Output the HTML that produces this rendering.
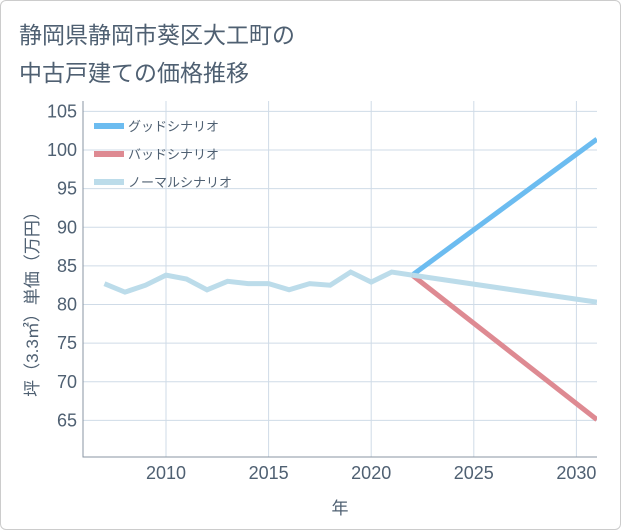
<!DOCTYPE html>
<html><head><meta charset="utf-8"><style>
body{margin:0;background:#fff}
#wrap{position:relative;width:619px;height:528px;border:1px solid #ccc;border-radius:6px;overflow:hidden;background:#fff}
.t{position:absolute;left:18px;font-family:"Liberation Sans","Noto Sans CJK JP",sans-serif;font-size:23px;color:#4f6072}
svg text{font-family:"Liberation Sans","Noto Sans CJK JP",sans-serif}
</style></head><body>
<div id="wrap">
<div class="t" style="top:15px">静岡県静岡市葵区大工町の</div>
<div class="t" style="top:53px">中古戸建ての価格推移</div>
<svg id="c" width="621" height="530" style="position:absolute;left:-1px;top:-1px"></svg>
</div>
<script>
const years=[2007,2008,2009,2010,2011,2012,2013,2014,2015,2016,2017,2018,2019,2020,2021,2022];
const normalVals=[82.7,81.6,82.5,83.8,83.3,81.9,83.0,82.7,82.7,81.9,82.7,82.5,84.2,82.9,84.2,83.8];
const scenYears=[2022,2031];
const goodVals=[83.8,101.4];
const badVals=[83.8,65.1];
const normFut=[83.8,80.3];
const xTicks=[2010,2015,2020,2025,2030];
const yTicks=[65,70,75,80,85,90,95,100,105];
const L=83,R=597,T=101,B=457;
const X=v=>166+(v-2010)*20.52;
const Y=v=>150-(v-100)*7.725;
const s=document.getElementById('c'),NS='http://www.w3.org/2000/svg';
function mk(t,a,p){const e=document.createElementNS(NS,t);for(const k in a)e.setAttribute(k,a[k]);(p||s).appendChild(e);return e;}
xTicks.forEach(y=>{const g=mk('line',{x1:X(y),x2:X(y),y1:T,y2:B,stroke:'#cfdbe7','stroke-width':1});});
yTicks.forEach(v=>{const g=mk('line',{x1:L,x2:R,y1:Y(v),y2:Y(v),stroke:'#cfdbe7','stroke-width':1});});
const ax=mk('path',{d:`M${L} ${T}V${B}H${R}`,fill:'none',stroke:'#8a96a3','stroke-width':1});

yTicks.forEach(v=>{const t=mk('text',{x:L-6,y:Y(v)+6,'text-anchor':'end','font-size':18,fill:'#4f6072'});t.textContent=v;});
xTicks.forEach(v=>{const t=mk('text',{x:X(v),y:479,'text-anchor':'middle','font-size':18,fill:'#4f6072'});t.textContent=v;});
const xt=mk('text',{x:340,y:514,'text-anchor':'middle','font-size':17,fill:'#4f6072'});xt.textContent='年';

const yt=mk('text',{x:0,y:0,'text-anchor':'middle','font-size':17,fill:'#4f6072',transform:'translate(38,300) rotate(-90)'});yt.textContent='坪（3.3㎡）単価（万円）';

const defs=mk('defs',{});const cp=mk('clipPath',{id:'cp'},defs);mk('rect',{x:L,y:T,width:R-L,height:B-T},cp);
function line(xs,vs,col,name){const p=mk('path',{d:xs.map((x,i)=>(i?'L':'M')+X(x)+' '+Y(vs[i])).join(''),fill:'none',stroke:col,'stroke-width':5,'clip-path':'url(#cp)'});}
line(scenYears,goodVals,'#6cbcf0','good-scenario-line');
line(scenYears,badVals,'#de8a92','bad-scenario-line');
line(scenYears,normFut,'#bcdcea','normal-scenario-forecast');
line(years,normalVals,'#bcdcea','normal-scenario-line');
[['グッドシナリオ','#6cbcf0'],['バッドシナリオ','#de8a92'],['ノーマルシナリオ','#bcdcea']].forEach((l,i)=>{const y=126+i*28;
const r=mk('rect',{x:94,y:y-3,width:30,height:6,fill:l[1]});
const t=mk('text',{x:128,y:y+5,'font-size':13,fill:'#4f6072'});t.textContent=l[0];});
</script>
</body></html>
